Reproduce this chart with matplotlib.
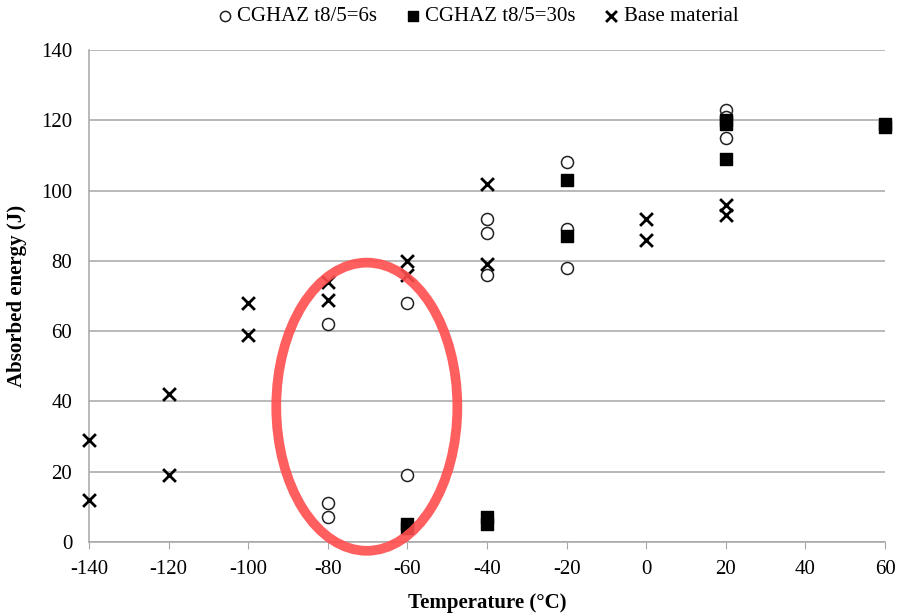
import matplotlib
matplotlib.use("Agg")
import matplotlib.pyplot as plt
from matplotlib.patches import Ellipse

# CGHAZ t8/5=6s (open circles)
cg6_temp = [-80, -80, -80, -60, -60, -40, -40, -40, -20, -20, -20, 20, 20, 20]
cg6_energy = [62, 11, 7, 68, 19, 92, 88, 76, 108, 89, 78, 123, 121, 115]

# CGHAZ t8/5=30s (filled squares)
cg30_temp = [-60, -60, -40, -40, -20, -20, 20, 20, 20, 60, 60]
cg30_energy = [5, 4, 7, 5, 103, 87, 120, 119, 109, 119, 118]

# Base material (x)
base_temp = [-140, -140, -120, -120, -100, -100, -80, -80, -60, -60, -40, -40, 0, 0, 20, 20]
base_energy = [29, 12, 42, 19, 68, 59, 74, 69, 80, 76, 102, 79, 92, 86, 96, 93]

xticks = [-140, -120, -100, -80, -60, -40, -20, 0, 20, 40, 60]
yticks = [0, 20, 40, 60, 80, 100, 120, 140]

plt.rcParams['font.family'] = ['Liberation Serif', 'DejaVu Serif']

fig = plt.figure(figsize=(8.99, 6.16), dpi=100)
ax = fig.add_axes([89/899, 74/616, (885-89)/899, (542-50)/616])

ax.set_xlim(-140, 60)
ax.set_ylim(0, 140)
ax.set_yticks(yticks)
ax.set_xticks(xticks)
ax.set_xticklabels([str(v) for v in xticks], fontsize=15)
ax.set_yticklabels([str(v) for v in yticks], fontsize=15)

ax.yaxis.grid(True, color='#a6a6a6', linewidth=1.1)
ax.set_axisbelow(True)
for s in ['top', 'right']:
    ax.spines[s].set_visible(False)
ax.spines['left'].set_color('#a6a6a6')
ax.spines['bottom'].set_color('#a6a6a6')
ax.spines['left'].set_linewidth(1.1)
ax.spines['bottom'].set_linewidth(1.1)
ax.tick_params(axis='y', length=0, pad=12)
ax.tick_params(axis='x', length=5, color='#a6a6a6', direction='out', pad=8)

ax.scatter(cg6_temp, cg6_energy, s=75, marker='o', facecolors='white',
           edgecolors='#222222', linewidths=1.1, label='CGHAZ t8/5=6s', zorder=3, clip_on=False)
ax.scatter(cg30_temp, cg30_energy, s=68, marker='s', color='black',
           label='CGHAZ t8/5=30s', zorder=4, clip_on=False)
ax.scatter(base_temp, base_energy, s=85, marker='x', color='black', linewidths=2,
           label='Base material', zorder=5, clip_on=False)

ell = Ellipse((-70.2, 38.5), width=45.5, height=82, fill=False,
              edgecolor='#ff4d4d', alpha=0.9, linewidth=7, zorder=6, clip_on=False)
ax.add_patch(ell)

ax.set_xlabel('Temperature (°C)', fontsize=15, fontweight='bold', labelpad=10)
ax.set_ylabel('Absorbed energy (J)', fontsize=15, fontweight='bold', labelpad=10)

leg = fig.legend(loc='upper center', bbox_to_anchor=(0.53, 1.02), ncol=3, frameon=False,
                 fontsize=15, handletextpad=0.1, columnspacing=1.2, handlelength=1.0,
                 markerscale=0.85)

fig.savefig('out.png', dpi=100)
